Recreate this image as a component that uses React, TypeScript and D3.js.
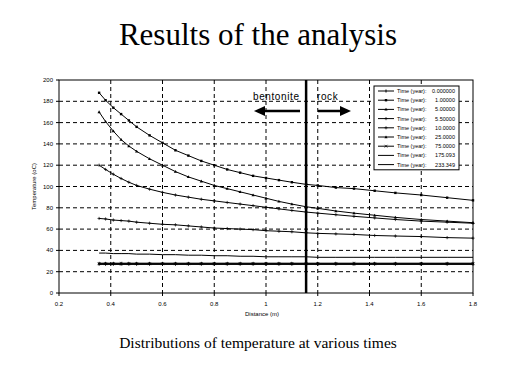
import * as d3 from "d3";

// distance nodes (m) and temperature per time step (oC)
const distance = [0.355, 0.38, 0.41, 0.44, 0.47, 0.5, 0.55, 0.6, 0.65, 0.7, 0.75, 0.8, 0.85, 0.9, 0.95, 1.0, 1.05, 1.1, 1.155, 1.2, 1.27, 1.34, 1.42, 1.5, 1.6, 1.7, 1.8];

const t0 = [27, 27, 27, 27, 27, 27, 27, 27, 27, 27, 27, 27, 27, 27, 27, 27, 27, 27, 27, 27, 27, 27, 27, 27, 27, 27, 27];
const t1 = [188, 181, 174, 168, 162, 156, 148, 141, 134, 129, 124, 120, 116, 113, 110, 108, 106, 104, 102, 101, 99, 98, 96, 94, 92, 89.5, 87];
const t5 = [170, 161, 152, 144, 138, 133, 126, 120, 114, 109, 105, 101, 98, 95, 92, 89, 86, 83.5, 81, 79.5, 77, 75, 73, 71, 69, 67.5, 66];
const t55 = [120, 116, 111.5, 107.5, 104, 101, 97.5, 94.5, 92, 90, 88, 86.5, 85, 83.5, 82, 80.5, 79, 77.5, 76, 75, 73.5, 72, 70.5, 69, 67.5, 66.5, 65.5];
const t10 = [70, 69.5, 68.5, 68, 67.5, 66.5, 65.5, 64.5, 64, 63, 62, 61, 60.5, 60, 59.5, 58.5, 58, 57.5, 56.5, 56, 55.5, 55, 54, 53.5, 53, 52, 51.5];
const t25 = [28, 28, 28, 28, 28, 28, 28, 28, 28, 28, 28, 28, 28, 28, 28, 28, 28, 28, 28, 28, 28, 28, 28, 28, 28, 28, 28];
const t75 = [27.5, 27.5, 27.5, 27.5, 27.5, 27.5, 27.5, 27.5, 27.5, 27.5, 27.5, 27.5, 27.5, 27.5, 27.5, 27.5, 27.5, 27.5, 27.5, 27.5, 27.5, 27.5, 27.5, 27.5, 27.5, 27.5, 27.5];
const t175 = [37.5, 37.5, 37, 37, 37, 36.5, 36.5, 36, 36, 35.5, 35.5, 35, 35, 34.5, 34.5, 34, 34, 34, 34, 33.5, 33.5, 33.5, 33.5, 33.5, 33.5, 33.5, 33.5];
const t233 = [27, 27, 27, 27, 27, 27, 27, 27, 27, 27, 27, 27, 27, 27, 27, 27, 27, 27, 27, 27, 27, 27, 27, 27, 27, 27, 27];

const timeLabels = ["0.000000", "1.00000", "5.00000", "5.50000", "10.0000", "25.0000", "75.0000", "175.093", "233.349"];
const markers = ["dash", "square", "triangle", "plus", "plus", "triangle", "cross", "none", "none"];
const seriesValues = [t0, t1, t5, t55, t10, t25, t75, t175, t233];

const xTicks = [0.2, 0.4, 0.6, 0.8, 1, 1.2, 1.4, 1.6, 1.8];
const yTicks = [0, 20, 40, 60, 80, 100, 120, 140, 160, 180, 200];
const boundary = 1.155;

const W = 519, H = 389;
const left = 59, right = 473, top = 80, bottom = 293;

function Marker({ type, x, y }: { type: string; x: number; y: number }) {
  const s = 1.2;
  if (type === "square") return <rect x={x - s} y={y - s} width={s * 2} height={s * 2} fill="#000" />;
  if (type === "triangle")
    return <path d={`M${x},${y - 1.6}L${x + 1.6},${y + 1.2}L${x - 1.6},${y + 1.2}Z`} fill="#000" />;
  if (type === "plus")
    return <path d={`M${x - 1.6},${y}H${x + 1.6}M${x},${y - 1.6}V${y + 1.6}`} stroke="#000" strokeWidth={0.7} />;
  if (type === "cross")
    return <path d={`M${x - 1.4},${y - 1.4}L${x + 1.4},${y + 1.4}M${x + 1.4},${y - 1.4}L${x - 1.4},${y + 1.4}`} stroke="#000" strokeWidth={0.7} />;
  if (type === "dash")
    return <path d={`M${x},${y - 1.5}V${y + 1.5}`} stroke="#000" strokeWidth={1} />;
  return null;
}

export default function App() {
  const x = d3.scaleLinear().domain([0.2, 1.8]).range([left, right]);
  const y = d3.scaleLinear().domain([0, 200]).range([bottom, top]);
  const line = d3.line<number>().x((_, i) => x(distance[i])).y((d) => y(d));

  const legX = 374, legY = 86, legW = 85, rowH = 9.2;
  const ax = "Arial, 'Liberation Sans', sans-serif";

  return (
    <svg width={W} height={H} style={{ position: "absolute", left: 0, top: 0, background: "#fff" }}>
      <text x={258} y={45} textAnchor="middle" fontFamily="'Liberation Serif', 'Times New Roman', serif" fontSize={31}>
        Results of the analysis
      </text>

      {/* grid */}
      {xTicks.slice(1, -1).map((t) => (
        <line key={"gx" + t} x1={x(t)} x2={x(t)} y1={top} y2={bottom} stroke="#000" strokeWidth={1} strokeDasharray="4,3" />
      ))}
      {yTicks.slice(1, -1).map((t) => (
        <line key={"gy" + t} x1={left} x2={right} y1={y(t)} y2={y(t)} stroke="#000" strokeWidth={1} strokeDasharray="4,3" />
      ))}
      <rect x={left} y={top} width={right - left} height={bottom - top} fill="none" stroke="#000" strokeWidth={1} />

      {/* ticks + labels */}
      {xTicks.map((t) => (
        <g key={"xt" + t}>
          <line x1={x(t)} x2={x(t)} y1={bottom} y2={bottom + 3} stroke="#000" />
          <text x={x(t)} y={bottom + 13} textAnchor="middle" fontFamily={ax} fontSize={6}>{t === 1 ? "1" : t.toFixed(1)}</text>
        </g>
      ))}
      {yTicks.map((t) => (
        <g key={"yt" + t}>
          <line x1={left - 3} x2={left} y1={y(t)} y2={y(t)} stroke="#000" />
          <text x={left - 6} y={y(t) + 2} textAnchor="end" fontFamily={ax} fontSize={6}>{t}</text>
        </g>
      ))}
      <text x={262} y={316} textAnchor="middle" fontFamily={ax} fontSize={6}>Distance (m)</text>
      <text transform={`translate(36,${(top + bottom) / 2}) rotate(-90)`} textAnchor="middle" fontFamily={ax} fontSize={6}>
        Temperature (oC)
      </text>

      {/* series */}
      {seriesValues.map((vals, si) => (
        <g key={"s" + si}>
          <path d={line(vals) || ""} fill="none" stroke="#000" strokeWidth={1} />
          {vals.map((v, i) => (
            <Marker key={i} type={markers[si]} x={x(distance[i])} y={y(v)} />
          ))}
        </g>
      ))}

      {/* bentonite / rock boundary */}
      <line x1={x(boundary)} x2={x(boundary)} y1={top} y2={bottom} stroke="#000" strokeWidth={2.5} />
      <text x={253} y={100} fontFamily={ax} fontSize={10} letterSpacing={0.6}>bentonite</text>
      <text x={317} y={100} fontFamily={ax} fontSize={10} letterSpacing={0.6}>rock</text>
      <line x1={300} x2={263} y1={111} y2={111} stroke="#000" strokeWidth={2.5} />
      <path d="M254,111L265,106L265,116Z" fill="#000" />
      <line x1={318} x2={342} y1={111} y2={111} stroke="#000" strokeWidth={2.5} />
      <path d="M351,111L340,106L340,116Z" fill="#000" />

      {/* legend */}
      <rect x={legX} y={legY} width={legW} height={rowH * 9 + 1} fill="#fff" stroke="#000" strokeWidth={1} />
      {timeLabels.map((lab, i) => {
        const cy = legY + 5 + i * rowH;
        return (
          <g key={"l" + i}>
            <line x1={legX + 4} x2={legX + 20} y1={cy} y2={cy} stroke="#000" strokeWidth={1} />
            <Marker type={markers[i]} x={legX + 12} y={cy} />
            <text x={legX + 23} y={cy + 2} fontFamily={ax} fontSize={5.5}>Time (year):</text>
            <text x={legX + legW - 4} y={cy + 2} textAnchor="end" fontFamily={ax} fontSize={5.5}>{lab}</text>
          </g>
        );
      })}

      <text x={258} y={348} textAnchor="middle" fontFamily="'Liberation Serif', 'Times New Roman', serif" fontSize={15.5}>
        Distributions of temperature at various times
      </text>
    </svg>
  );
}
